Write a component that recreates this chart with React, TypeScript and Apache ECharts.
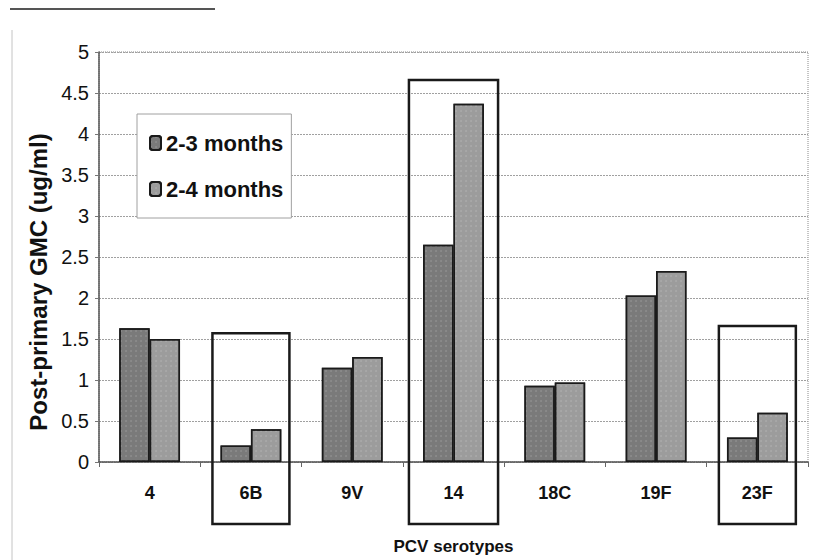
import React, { useEffect, useRef } from "react";
import * as echarts from "echarts";

const categories = ["4", "6B", "9V", "14", "18C", "19F", "23F"];
const seriesNames = ["2-3 months", "2-4 months"];
const values23 = [1.63, 0.2, 1.15, 2.65, 0.93, 2.03, 0.3];
const values24 = [1.5, 0.4, 1.28, 4.37, 0.97, 2.33, 0.6];
const highlighted = ["6B", "14", "23F"];
const highlightTops = [1.57, 4.66, 1.66];
const highlightHalfWidths = [0.38, 0.44, 0.38]; // in category widths

const FONT = "'Liberation Sans Narrow', 'Liberation Sans', Arial, sans-serif";

export default function App() {
  const ref = useRef<HTMLDivElement>(null);
  useEffect(() => {
    document.body.style.margin = "0";
    const chart = echarts.init(ref.current!, null, { renderer: "svg" });
    const barStyle = (color: string) => ({
      color,
      borderColor: "#1a1a1a",
      borderWidth: 1.5,
      decal: {
        symbol: "circle",
        symbolSize: 0.6,
        color: "rgba(255,255,255,0.3)",
        dashArrayX: [2, 3],
        dashArrayY: [2, 3],
      },
    });
    chart.setOption({
      animation: false,
      backgroundColor: "#ffffff",
      grid: {
        left: 99,
        right: 9,
        top: 52,
        bottom: 98,
        show: true,
        borderColor: "#8a8a8a",
        borderWidth: 1,
        borderType: "dotted",
      },
      legend: {
        orient: "vertical",
        left: 137,
        top: 114,
        data: seriesNames,
        backgroundColor: "#ffffff",
        borderColor: "#a0a0a0",
        borderWidth: 1,
        padding: [18, 8, 18, 12],
        itemGap: 24,
        itemWidth: 11,
        itemHeight: 14,
        textStyle: {
          fontFamily: FONT,
          fontSize: 22,
          fontWeight: "bold",
          color: "#111",
        },
      },
      xAxis: {
        type: "category",
        data: categories,
        name: "PCV serotypes",
        nameLocation: "middle",
        nameGap: 76,
        nameTextStyle: {
          fontFamily: FONT,
          fontSize: 17,
          fontWeight: "bold",
          color: "#111",
        },
        axisLine: { lineStyle: { color: "#555", width: 1.5 } },
        axisTick: { show: true, length: 5, lineStyle: { color: "#666" } },
        axisLabel: {
          margin: 22,
          fontFamily: FONT,
          fontSize: 18,
          fontWeight: "bold",
          color: "#111",
        },
      },
      yAxis: {
        type: "value",
        min: 0,
        max: 5,
        interval: 0.5,
        name: "Post-primary GMC (ug/ml)",
        nameLocation: "middle",
        nameGap: 48,
        nameTextStyle: {
          fontFamily: FONT,
          fontSize: 24,
          fontWeight: "bold",
          color: "#111",
          padding: [0, 50, 0, 0],
        },
        axisLine: { show: true, lineStyle: { color: "#555", width: 1.5 } },
        axisTick: { show: true, length: 4, lineStyle: { color: "#777" } },
        axisLabel: {
          margin: 10,
          fontFamily: FONT,
          fontSize: 20,
          color: "#111",
        },
        splitLine: {
          show: true,
          lineStyle: { color: "#a0a0a0", type: [2, 1], width: 1 },
        },
      },
      series: [
        {
          name: seriesNames[0],
          type: "bar",
          data: values23,
          barGap: "0%",
          barCategoryGap: "40%",
          itemStyle: barStyle("#7a7a7a"),
        },
        {
          name: seriesNames[1],
          type: "bar",
          data: values24,
          itemStyle: barStyle("#9c9c9c"),
        },
      ],
    });

    const c0 = chart.convertToPixel({ xAxisIndex: 0 }, categories[0]) as number;
    const c1 = chart.convertToPixel({ xAxisIndex: 0 }, categories[1]) as number;
    const catW = c1 - c0;
    const y0 = chart.convertToPixel({ yAxisIndex: 0 }, 0) as number;
    const boxBottom = y0 + 62;
    const graphics: any[] = highlighted.map((cat, i) => {
      const cx = chart.convertToPixel({ xAxisIndex: 0 }, cat) as number;
      const top = chart.convertToPixel({ yAxisIndex: 0 }, highlightTops[i]) as number;
      const hw = highlightHalfWidths[i] * catW;
      return {
        type: "rect",
        shape: { x: cx - hw, y: top, width: hw * 2, height: boxBottom - top },
        style: { fill: "none", stroke: "#1a1a1a", lineWidth: 2.5 },
        z: 100,
      };
    });
    // faint outer frame of the scanned figure
    graphics.push({
      type: "line",
      shape: { x1: 10, y1: 9, x2: 215, y2: 9 },
      style: { stroke: "#555", lineWidth: 2 },
      z: 1,
    });
    graphics.push({
      type: "line",
      shape: { x1: 12, y1: 30, x2: 12, y2: 560 },
      style: { stroke: "#c4c4c4", lineWidth: 1 },
      z: 1,
    });
    chart.setOption({ graphic: graphics });

    return () => chart.dispose();
  }, []);
  return (
    <div
      ref={ref}
      style={{ width: 817, height: 560, position: "fixed", left: 0, top: 0 }}
    />
  );
}
